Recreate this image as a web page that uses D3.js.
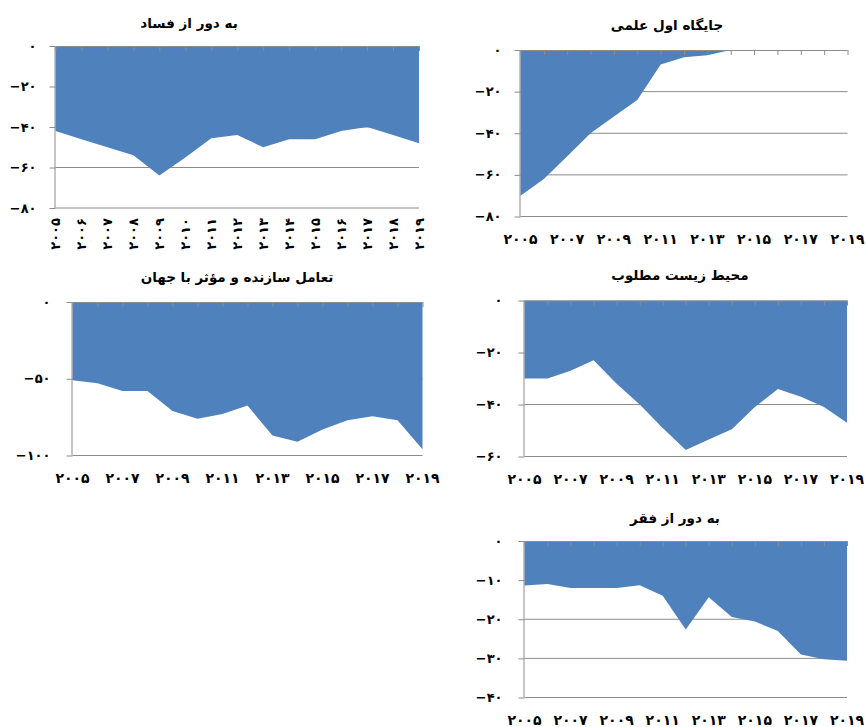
<!DOCTYPE html>
<html><head><meta charset="utf-8">
<script src="https://cdn.jsdelivr.net/npm/d3@7/dist/d3.min.js"></script>
<style>
body{margin:0;background:#fff}
text{font-family:"DejaVu Sans",sans-serif;fill:#000}
</style>
</head><body>
<svg id="chart" width="866" height="727"></svg>
<script>
// ---- data ----
const years = [2005,2006,2007,2008,2009,2010,2011,2012,2013,2014,2015,2016,2017,2018,2019];
const corruption  = [-42,-46,-50,-54,-64,-55,-45.5,-44,-50,-46,-46,-42,-40,-44,-48];
const scientific  = [-70,-62,-51,-40,-32,-24,-7,-3.5,-2.5,0,0,0,0,0,0];
const engagement  = [-51,-53,-58,-58,-71,-76,-73,-67.5,-87,-91,-83,-77,-74.5,-77,-96];
const environment = [-30,-30,-27,-23,-32,-40,-49,-57.5,-53.5,-49.5,-41,-34,-37,-41,-47];
const poverty     = [-11.4,-11,-12,-12,-12,-11.3,-14,-22.6,-14.4,-19.4,-20.6,-23,-29,-30.2,-30.6];
const titles = ["به دور از فساد","جایگاه اول علمی","تعامل سازنده و مؤثر با جهان","محیط زیست مطلوب","به دور از فقر"];
const ticksCorruption  = [0,-20,-40,-60,-80];
const ticksScientific  = [0,-20,-40,-60,-80];
const ticksEngagement  = [0,-50,-100];
const ticksEnvironment = [0,-20,-40,-60];
const ticksPoverty     = [0,-10,-20,-30,-40];
const labelYearsAll  = years;
const labelYearsEven = [2005,2007,2009,2011,2013,2015,2017,2019];

// ---- layout ----
const panels = [
  {values:corruption,  ticks:ticksCorruption,  title:titles[0], L:55.5, R:419,  T:46,    B:208,   tx:189, ty:23,  gap:19, rotate:true,  xl:labelYearsAll},
  {values:scientific,  ticks:ticksScientific,  title:titles[1], L:520.5,R:847.5,T:50,    B:216.5, tx:667, ty:25,  gap:19, rotate:false, xl:labelYearsEven},
  {values:engagement,  ticks:ticksEngagement,  title:titles[2], L:72.5, R:422.5,T:302,   B:455.5, tx:237, ty:277, gap:22, rotate:false, xl:labelYearsEven},
  {values:environment, ticks:ticksEnvironment, title:titles[3], L:524.5,R:847,  T:300.5, B:456.5, tx:680, ty:275, gap:22, rotate:false, xl:labelYearsEven},
  {values:poverty,     ticks:ticksPoverty,     title:titles[4], L:524.5,R:847,  T:541,   B:697.5, tx:675, ty:518, gap:22, rotate:false, xl:labelYearsEven}
];

const fa = n => String(n).replace(/-/g,"\u2212").replace(/\d/g, d => "۰۱۲۳۴۵۶۷۸۹"[d]);
const svg = d3.select("#chart");
const GRID = "#8c8c8c", FILL = "#4f81bd";

panels.forEach(p => {
  const g = svg.append("g");
  const x = d3.scalePoint().domain(years).range([p.L, p.R]);
  const y = d3.scaleLinear().domain([d3.min(p.ticks), 0]).range([p.B, p.T]);

  // gridlines
  g.selectAll(".grid").data(p.ticks.filter(t => t !== 0)).join("line")
    .attr("x1", p.L).attr("x2", p.R)
    .attr("y1", d => y(d)).attr("y2", d => y(d))
    .attr("stroke", GRID).attr("stroke-width", 1);

  // area
  const area = d3.area().x((d,i) => x(years[i])).y0(y(0)).y1(d => y(d));
  g.append("path").datum(p.values).attr("d", area).attr("fill", FILL);

  // y axis
  const ya = d3.axisLeft(y).tickValues(p.ticks).tickSize(6).tickFormat(() => "");
  const yg = g.append("g").attr("transform", `translate(${p.L},0)`).call(ya);
  yg.select(".domain").attr("stroke", GRID).attr("d", `M-0.5,${p.T}V${p.B}`);
  yg.selectAll(".tick line").attr("stroke", GRID);
  g.selectAll(".ylab").data(p.ticks).join("text")
    .attr("x", p.L - p.gap).attr("y", d => y(d)).attr("dy", "0.35em")
    .attr("text-anchor", "end").attr("direction", "ltr")
    .style("font-size", "13px").style("font-weight", "bold")
    .text(d => fa(d));

  // x axis at zero (top) with inward ticks
  const xa = d3.axisBottom(x).tickSize(5).tickFormat(() => "");
  const xg = g.append("g").attr("transform", `translate(0,${y(0)})`).call(xa);
  xg.select(".domain").attr("stroke", GRID).attr("d", `M${p.L},0.5H${p.R}`);
  xg.selectAll(".tick line").attr("stroke", GRID);

  // x labels at bottom
  if (p.rotate) {
    g.selectAll(".xlab").data(p.xl).join("text")
      .attr("transform", d => `translate(${x(d)},${p.B + 10}) rotate(-90)`)
      .attr("dy", "0.35em").attr("text-anchor", "end").attr("direction", "ltr")
      .style("font-size", "13px").style("font-weight", "bold")
      .text(d => fa(d));
  } else {
    g.selectAll(".xlab").data(p.xl).join("text")
      .attr("x", d => x(d)).attr("y", p.B + 23).attr("dy", "0.35em")
      .attr("text-anchor", "middle").attr("direction", "ltr")
      .style("font-size", "14px").style("font-weight", "bold")
      .text(d => fa(d));
  }

  // title
  g.append("text").attr("x", p.tx).attr("y", p.ty).attr("dy", "0.35em")
    .attr("text-anchor", "middle")
    .style("font-size", "13.5px").style("font-weight", "bold")
    .text(p.title);
});
</script>
</body></html>
